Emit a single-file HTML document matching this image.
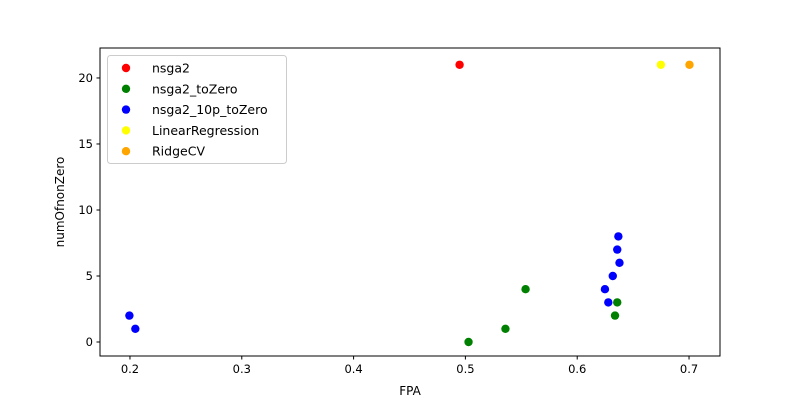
<!DOCTYPE html>
<html><head><meta charset="utf-8"><style>
body{margin:0;background:#fff;}
svg{display:block;font-family:"DejaVu Sans","Liberation Sans",sans-serif;}
</style></head><body>
<svg id="chart" width="800" height="400"></svg>
<script>
const seriesNames=["nsga2","nsga2_toZero","nsga2_10p_toZero","LinearRegression","RidgeCV"];
const seriesColors=["#ff0000","#008000","#0000ff","#ffff00","#ffa500"];
const nsga2X=[0.4948];
const nsga2Y=[21];
const toZeroX=[0.5028,0.5358,0.5538,0.6358,0.6338];
const toZeroY=[0,1,4,3,2];
const tenpX=[0.1995,0.2048,0.6368,0.6358,0.6378,0.6318,0.6248,0.6278];
const tenpY=[2,1,8,7,6,5,4,3];
const linX=[0.6748];
const linY=[21];
const ridgeX=[0.7004];
const ridgeY=[21];
const xTicks=[0.2,0.3,0.4,0.5,0.6,0.7];
const yTicks=[0,5,10,15,20];

const NS="http://www.w3.org/2000/svg";
const svg=document.getElementById('chart');
const L=100,R=720,T=48,B=356;
const xMin=0.1732,xMax=0.7277,yMin=-1.06,yMax=22.27;
const sx=v=>L+(v-xMin)/(xMax-xMin)*(R-L);
const sy=v=>B-(v-yMin)/(yMax-yMin)*(B-T);
function mk(tag,attrs){const e=document.createElementNS(NS,tag);for(const k in attrs)e.setAttribute(k,attrs[k]);svg.appendChild(e);return e;}

const sets=[[nsga2X,nsga2Y],[toZeroX,toZeroY],[tenpX,tenpY],[linX,linY],[ridgeX,ridgeY]];
sets.forEach((s,i)=>{s[0].forEach((x,j)=>{
  const c=mk('circle',{cx:sx(x),cy:sy(s[1][j]),r:4.2,fill:seriesColors[i]});
  
  
});});

const frame=mk('rect',{x:L,y:T,width:R-L,height:B-T,fill:'none',stroke:'#000','stroke-width':1});



xTicks.forEach(t=>{
  const x=sx(t);
  const ln=mk('line',{x1:x,y1:B,x2:x,y2:B+3.5,stroke:'#000'});
  
  
  const tx=mk('text',{x:x,y:B+17,'text-anchor':'middle','font-size':'11.5'});
  tx.textContent=t.toFixed(1);
  
  
});
yTicks.forEach(t=>{
  const y=sy(t);
  const ln=mk('line',{x1:L-3.5,y1:y,x2:L,y2:y,stroke:'#000'});
  
  
  const tx=mk('text',{x:L-7,y:y+4,'text-anchor':'end','font-size':'11.5'});
  tx.textContent=t;
  
  
});
const xl=mk('text',{x:(L+R)/2,y:395,'text-anchor':'middle','font-size':'12'});
xl.textContent='FPA';


const yl=mk('text',{x:64,y:(T+B)/2,'text-anchor':'middle','font-size':'12',transform:'rotate(-90 64 '+((T+B)/2)+')'});
yl.textContent='numOfnonZero';



const lg=mk('rect',{x:107.5,y:55.5,width:179,height:108,rx:3,fill:'#fff','fill-opacity':0.8,stroke:'#ccc'});


seriesNames.forEach((n,i)=>{
  const y=68+i*20.8;
  const c=mk('circle',{cx:126,cy:y,r:4.2,fill:seriesColors[i]});
  
  
  const t=mk('text',{x:152,y:y+4.5,'font-size':'12.5'});
  t.textContent=n;
  
  
});
</script>
</body></html>
